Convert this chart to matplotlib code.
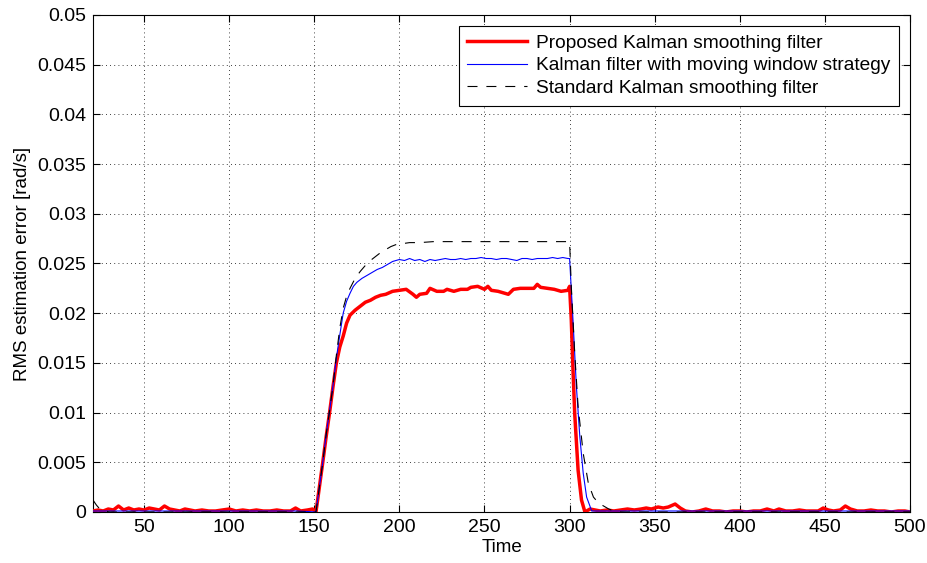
import matplotlib
matplotlib.use("Agg")
from matplotlib import pyplot as plt

plt.rcParams['font.family'] = ['Liberation Sans', 'DejaVu Sans']

# proposed Kalman smoothing filter (red)
t_red = [20, 23, 26, 29, 32, 35, 38, 41, 44, 47, 50, 53, 56, 59, 62, 65, 68, 71, 74, 77,
         80, 84, 88, 92, 96, 100, 104, 108, 112, 116, 120, 124, 128, 132, 136, 139, 142, 146, 149, 151,
         153, 155, 157, 159, 161, 163, 165, 167, 169, 171, 174, 177, 180, 183, 186, 189, 192, 196,
         200, 204, 208, 210, 212, 216, 218, 222, 226, 228, 232, 236, 240, 242, 246, 250, 252, 254,
         258, 260, 264, 267, 271, 275, 279, 281, 283, 287, 291, 295, 299, 300,
         301, 302, 303, 305, 307, 309, 312, 315, 318, 322, 326, 330, 334, 338, 342, 345, 348, 352,
         355, 358, 362, 365, 368, 372, 376, 380, 384, 388, 392, 396, 400, 404, 408, 412, 416, 420,
         423, 427, 431, 435, 439, 443, 446, 449, 452, 455, 459, 462, 465, 469, 473, 477, 481, 485,
         489, 493, 497, 500]
v_red = [0.0001, 0.0002, 0.0001, 0.0003, 0.0002, 0.0006, 0.0002, 0.0004, 0.0002, 0.0003,
         0.0002, 0.0004, 0.0003, 0.0002, 0.0006, 0.0003, 0.0002, 0.0001, 0.0003, 0.0002,
         0.0001, 0.0002, 0.0001, 0.0001, 0.0002, 0.0003, 0.0001, 0.0002, 0.0001, 0.0002,
         0.0001, 0.0001, 0.0002, 0.0001, 0.0001, 0.0004, 0.0001, 0.0002, 0.0003, 0.0,
         0.0025, 0.0050, 0.0076, 0.0100, 0.0126, 0.0150, 0.0166, 0.0177, 0.0190, 0.0198,
         0.0203, 0.0207, 0.0211, 0.0213, 0.0216, 0.0218, 0.0219, 0.0222,
         0.0223, 0.0224, 0.0219, 0.0216, 0.0219, 0.0220, 0.0225, 0.0222, 0.0222, 0.0224,
         0.0222, 0.0224, 0.0224, 0.0226, 0.0227, 0.0224, 0.0227, 0.0223,
         0.0222, 0.0221, 0.0219, 0.0224, 0.0225, 0.0225, 0.0225, 0.0229, 0.0226, 0.0225,
         0.0224, 0.0222, 0.0223, 0.0227,
         0.0193, 0.0143, 0.0099, 0.0042, 0.0012, 0.0, 0.0003, 0.0002, 0.0001, 0.0002,
         0.0001, 0.0002, 0.0003, 0.0002, 0.0003, 0.0004, 0.0003, 0.0005,
         0.0004, 0.0005, 0.0008, 0.0004, 0.0001, 0.0, 0.0001, 0.0003, 0.0001, 0.0001,
         0.0, 0.0001, 0.0001, 0.0, 0.0001, 0.0001, 0.0003, 0.0001,
         0.0003, 0.0001, 0.0001, 0.0002, 0.0001, 0.0001, 0.0001, 0.0004, 0.0002, 0.0001,
         0.0002, 0.0006, 0.0003, 0.0001, 0.0001, 0.0002, 0.0001, 0.0001,
         0.0, 0.0001, 0.0001, 0.0]

# Kalman filter with moving window strategy (blue)
t_blue = [20, 40, 60, 80, 100, 120, 140, 151,
          153, 155, 157, 159, 161, 163, 165, 167, 169, 171, 173, 175, 178, 181, 184, 187,
          190, 193, 196, 198,
          200, 203, 206, 209, 212, 215, 218, 221, 224, 227, 230, 233, 236, 239, 242, 245,
          248, 251, 254, 257, 260, 263, 266, 269, 272, 275, 278, 281, 284, 287, 290, 293,
          296, 299, 300,
          302, 304, 306, 308, 310, 313, 330, 360, 400, 450, 500]
v_blue = [0.0001, 0.0001, 0.0001, 0.0001, 0.0001, 0.0001, 0.0001, 0.0,
          0.0025, 0.0050, 0.0078, 0.0102, 0.0127, 0.0155, 0.0178, 0.0200, 0.0212, 0.0220,
          0.0227, 0.0231, 0.0235, 0.0238, 0.0241, 0.0244, 0.0246, 0.0249, 0.0252, 0.0253,
          0.0254, 0.0253, 0.0255, 0.0253, 0.0254, 0.0252, 0.0254, 0.0253, 0.0254, 0.0255,
          0.0254, 0.0254, 0.0255, 0.0254, 0.0255, 0.0255, 0.0256, 0.0255, 0.0255, 0.0254,
          0.0255, 0.0255, 0.0254, 0.0253, 0.0255, 0.0255, 0.0254, 0.0255, 0.0255, 0.0255,
          0.0256, 0.0255, 0.0256, 0.0255, 0.0255,
          0.0193, 0.0126, 0.0076, 0.0039, 0.0015, 0.0001, 0.0001, 0.0001, 0.0001, 0.0001,
          0.0001]

# standard Kalman smoothing filter (black dashed)
t_std = [20, 22, 24, 26, 30, 150, 151,
         153, 155, 157, 159, 161, 163, 165, 167, 169, 171, 174, 177, 180, 183, 186, 189,
         192, 195, 198, 202, 206, 212, 220, 300,
         301, 303, 305, 308, 311, 314, 317, 320, 323, 326, 330, 500]
v_std = [0.0012, 0.0007, 0.0003, 0.0001, 0.0, 0.0, 0.0,
         0.0025, 0.0050, 0.0078, 0.0102, 0.0127, 0.0158, 0.0185, 0.0205, 0.0217, 0.0225,
         0.0235, 0.0242, 0.0248, 0.0253, 0.0257, 0.0261, 0.0264, 0.0267, 0.0269, 0.0270,
         0.0271, 0.0271, 0.0272, 0.0272,
         0.0227, 0.0160, 0.0106, 0.0059, 0.0029, 0.0015, 0.0009, 0.0006, 0.0003, 0.0001,
         0.0, 0.0]

x_ticks = [50, 100, 150, 200, 250, 300, 350, 400, 450, 500]
y_ticks = [0, 0.005, 0.01, 0.015, 0.02, 0.025, 0.03, 0.035, 0.04, 0.045, 0.05]
y_tick_labels = ["0", "0.005", "0.01", "0.015", "0.02", "0.025", "0.03", "0.035",
                 "0.04", "0.045", "0.05"]

fig = plt.figure(figsize=(9.27, 5.63), dpi=100)
ax = fig.add_axes([0.1003, 0.0906, 0.8814, 0.8828])

ax.plot(t_red, v_red, color="red", lw=2.5, label="Proposed Kalman smoothing filter", zorder=3)
ax.plot(t_blue, v_blue, color="blue", lw=0.8, label="Kalman filter with moving window strategy", zorder=4)
ax.plot(t_std, v_std, color="black", lw=0.8, ls=(0, (9, 8)), label="Standard Kalman smoothing filter", zorder=5)

ax.set_xlim(20, 500)
ax.set_ylim(0, 0.05)
ax.set_xticks(x_ticks)
ax.set_yticks(y_ticks)
ax.set_yticklabels(y_tick_labels)
ax.tick_params(direction="in", top=True, right=True, labelsize=14, length=5, width=0.8, pad=5)
ax.grid(True, ls=(0, (1, 4)), color="black", lw=0.6)
for s in ax.spines.values():
    s.set_linewidth(0.8)

ax.set_xlabel("Time", fontsize=13.5, labelpad=2)
ax.set_ylabel("RMS estimation error [rad/s]", fontsize=13.5, labelpad=4)

leg = ax.legend(loc="upper right", fontsize=13.8, handlelength=3.1, handletextpad=0.5,
                borderpad=0.45, labelspacing=0.28, fancybox=False, framealpha=1,
                edgecolor="black", borderaxespad=0.55)
leg.get_frame().set_linewidth(0.8)

fig.savefig("out.png", dpi=100)
